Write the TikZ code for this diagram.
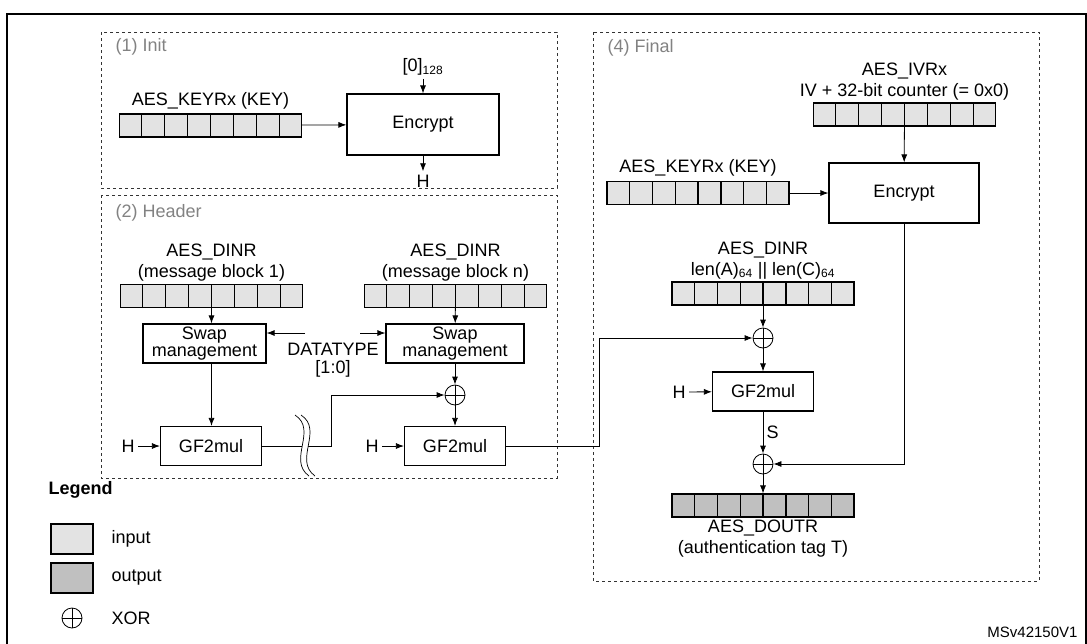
\documentclass[tikz,border=0pt]{standalone}
\usepackage{fontspec}
\setmainfont{Liberation Sans}
\usetikzlibrary{arrows.meta,calc,positioning}

\definecolor{infill}{RGB}{227,227,227}
\definecolor{outfill}{RGB}{192,192,192}
\definecolor{stagegray}{RGB}{130,130,130}

\tikzset{
	every node/.style={font=\fontsize{18}{21}\selectfont},
	arr/.style={-{Latex[length=8pt,width=6pt]}, line width=0.8pt},
	blk/.style={draw, line width=1.2pt, minimum width=101pt, minimum height=39pt, align=center, inner sep=1pt},
	reg/.style={draw, line width=1.2pt, minimum width=182pt, minimum height=23pt, inner sep=0pt},
	xor/.style={draw, circle, line width=0.8pt, minimum size=20pt, inner sep=0pt,
		path picture={\draw[line width=0.8pt] (path picture bounding box.north) -- (path picture bounding box.south)
			(path picture bounding box.west) -- (path picture bounding box.east);}},
	stage/.style={draw=black!80, dashed, line width=0.9pt},
	stagelbl/.style={text=stagegray, anchor=west},
}

\newcommand\regbox[4]{%
	\node[reg, fill=#4] (#1) at (#2,#3) {};
	\foreach \i in {1,...,7}
		\draw[line width=1.2pt] ($(#1.south west)!\i/8!(#1.south east)$) -- ($(#1.north west)!\i/8!(#1.north east)$);
}

\begin{document}
\begin{tikzpicture}[x=1pt,y=-1pt]
	\useasboundingbox (0,0) rectangle (1087,643);
	
	\draw[line width=1.6pt] (7,14) rectangle (1086,646);
	
	% (1) Init
	\draw[stage] (101,32) rectangle (557,188);
	\node[stagelbl] at (112,47) {(1) Init};
	\regbox{keyA}{210.5}{125.5}{infill}
	\node[above=1pt of keyA] {AES\_KEYRx (KEY)};
	\node[blk, minimum width=152pt, minimum height=61pt] (encA) at (423,124.5) {Encrypt};
	\node (zero) at (423,67) {[0]$_{\mbox{\fontsize{12}{12}\selectfont 128}}$};
	\node (hA) at (423,181) {H};
	\draw[arr] (zero) -- (encA);
	\draw[arr] (encA) -- (hA);
	\draw[arr] (keyA) -- (encA);
	
	% (2) Header
	\draw[stage] (101,195) rectangle (557,478);
	\node[stagelbl] at (112,213) {(2) Header};
	\regbox{dinA}{211.5}{296}{infill}
	\node[above=1pt of dinA, align=center, inner sep=1pt] {AES\_DINR\\(message block 1)};
	\regbox{dinN}{455.5}{296}{infill}
	\node[above=1pt of dinN, align=center, inner sep=1pt] {AES\_DINR\\(message block n)};
	\node[blk, minimum width=123pt] (swapA) at (204.5,343.5) {Swap\\[-4pt]management};
	\node[blk, minimum width=138pt] (swapN) at (455,343.5) {Swap\\[-4pt]management};
	\node[align=center] (dtype) at (333,360) {DATATYPE\\[-3pt][1:0]};
	\coordinate (dtL) at (305,333);
	\coordinate (dtR) at (360,333);
	\draw[arr] (dtL) -- (dtL -| swapA.east);
	\draw[arr] (dtR) -- (dtR -| swapN.west);
	\node[blk] (gfA) at (211,446) {GF2mul};
	\node[blk] (gfN) at (455,446) {GF2mul};
	\node (hB) at (128,446) {H};
	\node (hC) at (372,446) {H};
	\node[xor] (xorA) at (455,395) {};
	\coordinate (jog) at (331,446);
	\draw[arr] (dinA.south) -- (dinA.south |- swapA.north);
	\draw[arr] (dinA.south |- swapA.south) -- (dinA.south |- gfA.north);
	\draw[arr] (dinN) -- (swapN);
	\draw[arr] (swapN) -- (xorA);
	\draw[arr] (xorA) -- (gfN);
	\draw[arr] (hB) -- (gfA);
	\draw[arr] (hC) -- (gfN);
	\draw[arr] (gfA.east) -- (jog) |- (xorA.west);
	% break in the chain of blocks
	\fill[white] (295,415) .. controls (318,430) and (287,460) .. (309,476) -- (315,476) .. controls (293,460) and (324,430) .. (301,415) -- cycle;
	\draw[line width=0.7pt] (295,415) .. controls (318,430) and (287,460) .. (309,476);
	\draw[line width=0.7pt] (301,415) .. controls (324,430) and (293,460) .. (315,476);
	
	% (4) Final
	\draw[stage] (593,32) rectangle (1039,581);
	\node[stagelbl] at (604,48) {(4) Final};
	\regbox{ivB}{904.5}{114.5}{infill}
	\node[above=1pt of ivB, align=center, inner sep=1pt] {AES\_IVRx\\IV + 32-bit counter (= 0x0)};
	\regbox{keyB}{698}{193}{infill}
	\node[above=1pt of keyB] {AES\_KEYRx (KEY)};
	\node[blk, minimum width=150pt, minimum height=60pt] (encB) at (904,193) {Encrypt};
	\regbox{dinB}{763}{293.5}{infill}
	\node[above=1pt of dinB, align=center, inner sep=1pt] {AES\_DINR\\len(A)$_{\mbox{\fontsize{12}{12}\selectfont 64}}$ || len(C)$_{\mbox{\fontsize{12}{12}\selectfont 64}}$};
	\node[xor] (xorB) at (763,338) {};
	\node[blk] (gfB) at (763,391.5) {GF2mul};
	\node (hD) at (679,392) {H};
	\node[xor] (xorC) at (763,464) {};
	\regbox{doutB}{763}{505.5}{outfill}
	\node[below=1pt of doutB, align=center, inner sep=1pt] {AES\_DOUTR\\(authentication tag T)};
	\coordinate (link) at (599,446);
	\draw[arr] (ivB) -- (encB);
	\draw[arr] (keyB) -- (encB);
	\draw[arr] (dinB) -- (xorB);
	\draw[arr] (gfN.east) -- (link) |- (xorB.west);
	\draw[arr] (xorB) -- (gfB);
	\draw[arr] (hD) -- (gfB);
	\draw[arr] (gfB) -- node[right] {S} (xorC);
	\draw[arr] (encB.south) |- (xorC.east);
	\draw[arr] (xorC) -- (doutB);
	
	% Legend
	\node[anchor=west, font=\fontsize{18}{21}\selectfont\bfseries] (leg) at (45,490) {Legend};
	\node[draw, line width=1.2pt, fill=infill, minimum width=42pt, minimum height=30pt] (legIn) at (72,539) {};
	\node[draw, line width=1.2pt, fill=outfill, minimum width=42pt, minimum height=30pt] (legOut) at (72,578) {};
	\node[xor] (legXor) at (72,618) {};
	\node[anchor=west] at (108,539) {input};
	\node[anchor=west] at (108,578) {output};
	\node[anchor=west] at (108,618) {XOR};
	
	\node[anchor=east, font=\fontsize{15}{18}\selectfont] at (1081,632) {MSv42150V1};
	
\end{tikzpicture}
\end{document}
